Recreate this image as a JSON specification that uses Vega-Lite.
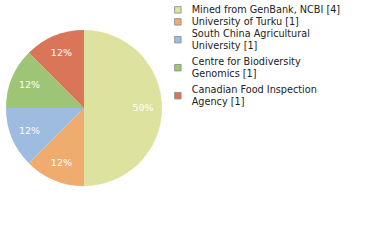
{
  "$schema": "https://vega.github.io/schema/vega-lite/v6.json",
  "width": 158,
  "height": 158,
  "autosize": "none",
  "padding": {"left": 5, "top": 29, "right": 217, "bottom": 53},
  "background": "white",
  "config": {
    "view": {"stroke": null},
    "font": "DejaVu Sans",
    "legend": {
      "title": null,
      "orient": "none",
      "legendX": 168,
      "legendY": -24,
      "symbolSize": 42,
      "symbolStrokeColor": "#888888",
      "symbolStrokeWidth": 0.8,
      "labelFontSize": 9.7,
      "labelColor": "#222222",
      "labelLimit": 300,
      "labelOffset": 9,
      "rowPadding": 1
    }
  },
  "data": {
    "values": [
      {"order": 1, "name": "Mined from GenBank, NCBI [4]", "count": 4, "pct": "50%"},
      {"order": 2, "name": "University of Turku [1]", "count": 1, "pct": "12%"},
      {"order": 3, "name": "South China Agricultural\nUniversity [1]", "count": 1, "pct": "12%"},
      {"order": 4, "name": "Centre for Biodiversity\nGenomics [1]", "count": 1, "pct": "12%"},
      {"order": 5, "name": "Canadian Food Inspection\nAgency [1]", "count": 1, "pct": "12%"}
    ]
  },
  "layer": [
    {
      "mark": {"type": "point", "filled": true, "opacity": 1, "size": 42},
      "encoding": {
        "color": {
          "field": "name",
          "type": "nominal",
          "sort": {"field": "order"},
          "scale": {
            "domain": ["Mined from GenBank, NCBI [4]", "University of Turku [1]", "South China Agricultural\nUniversity [1]", "Centre for Biodiversity\nGenomics [1]", "Canadian Food Inspection\nAgency [1]"],
            "range": ["#dde39f", "#f0ac6f", "#9ebbe0", "#9ec576", "#db7558"]
          },
          "legend": {"labelExpr": "split(datum.label, '\\n')"}
        },
        "shape": {
          "field": "name",
          "type": "nominal",
          "sort": {"field": "order"},
          "scale": {
            "domain": ["Mined from GenBank, NCBI [4]", "University of Turku [1]", "South China Agricultural\nUniversity [1]", "Centre for Biodiversity\nGenomics [1]", "Canadian Food Inspection\nAgency [1]"],
            "range": ["square", "square", "M-1,0.8H1V2.8H-1Z M0,6.0", "M-1,0.8H1V2.8H-1Z M0,6.0", "M-1,0.8H1V2.8H-1Z M0,6.0"]
          },
          "legend": {"labelExpr": "split(datum.label, '\\n')"}
        }
      }
    },
    {
      "mark": {"type": "arc", "outerRadius": 78},
      "encoding": {
        "theta": {"field": "count", "type": "quantitative", "stack": true},
        "order": {"field": "order", "type": "quantitative"},
        "color": {
          "field": "name",
          "type": "nominal",
          "sort": {"field": "order"},
          "legend": {"labelExpr": "split(datum.label, '\\n')"}
        }
      }
    },
    {
      "mark": {"type": "text", "radius": 59, "color": "white", "fontSize": 9.5},
      "encoding": {
        "theta": {"field": "count", "type": "quantitative", "stack": true},
        "order": {"field": "order", "type": "quantitative"},
        "text": {"field": "pct", "type": "nominal"}
      }
    }
  ]
}
